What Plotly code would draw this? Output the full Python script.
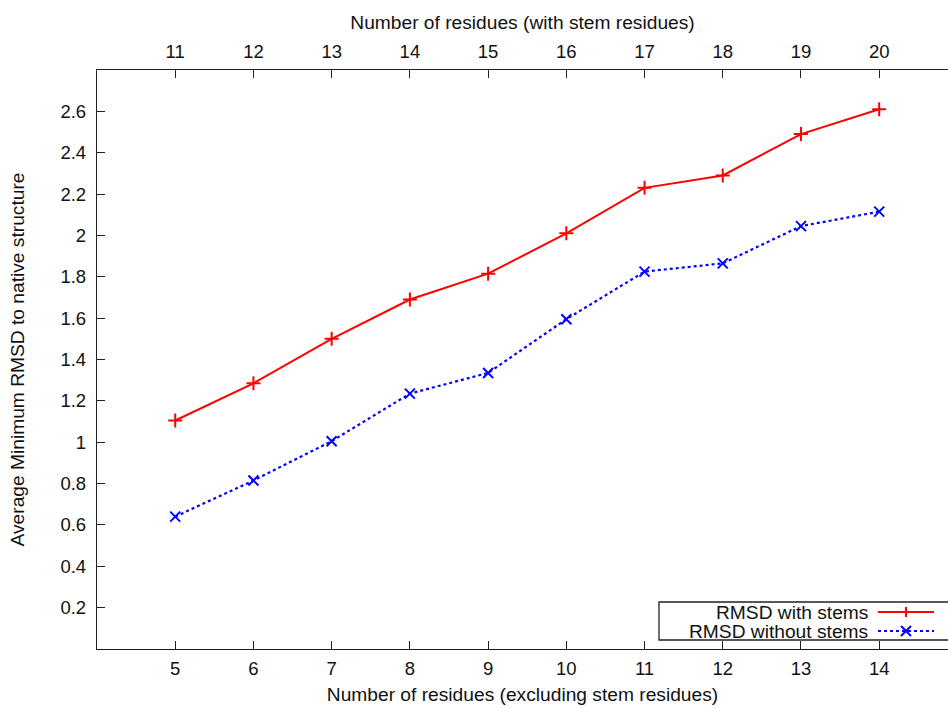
import plotly.graph_objects as go

residues = [5, 6, 7, 8, 9, 10, 11, 12, 13, 14]
rmsd_with_stems = [1.105, 1.285, 1.50, 1.69, 1.815, 2.01, 2.23, 2.29, 2.49, 2.61]
rmsd_without_stems = [0.64, 0.815, 1.005, 1.235, 1.335, 1.595, 1.825, 1.865, 2.045, 2.115]
y_ticks = [0.2, 0.4, 0.6, 0.8, 1.0, 1.2, 1.4, 1.6, 1.8, 2.0, 2.2, 2.4, 2.6]
y_tick_labels = ["0.2", "0.4", "0.6", "0.8", "1", "1.2", "1.4", "1.6", "1.8", "2", "2.2", "2.4", "2.6"]
top_ticks = [11, 12, 13, 14, 15, 16, 17, 18, 19, 20]
stem_offset = 6

W, H = 948, 708
ML, MR, MT, MB = 97, 0, 70, 59
PW, PH = W - ML - MR, H - MT - MB

def px(x):
    return (x - ML) / PW

def py(y):
    return (H - MB - y) / PH

FONT = "Liberation Sans, Arial, sans-serif"
AX = "#222222"
TF = 18.5
TTL = 19.2

fig = go.Figure()
fig.add_trace(go.Scatter(
    x=residues, y=rmsd_with_stems, mode="lines+markers", name="RMSD with stems",
    line=dict(color="#ff0000", width=2),
    marker=dict(symbol="cross-thin", size=10, line=dict(color="#ff0000", width=2)),
    showlegend=False))
fig.add_trace(go.Scatter(
    x=residues, y=rmsd_without_stems, mode="lines+markers", name="RMSD without stems",
    line=dict(color="#0000ff", width=2.2, dash="dot"),
    marker=dict(symbol="x-thin", size=10, line=dict(color="#0000ff", width=2)),
    showlegend=False))
# invisible trace to activate top axis
fig.add_trace(go.Scatter(x=[t for t in top_ticks], y=[None] * len(top_ticks),
                         xaxis="x2", mode="lines", showlegend=False, hoverinfo="skip"))

xr = [4, 4 + PW / 78.22]
fig.update_layout(
    width=W, height=H, margin=dict(l=ML, r=MR, t=MT, b=MB),
    paper_bgcolor="white", plot_bgcolor="white",
    font=dict(family=FONT, size=TF, color="#111111"),
    xaxis=dict(range=xr, tickvals=residues, ticks="inside", ticklen=8, tickwidth=1.2,
               tickcolor=AX, showline=True, linecolor=AX, linewidth=1.3, showgrid=False,
               zeroline=False, tickfont=dict(size=TF), ticklabelstandoff=3,
               title=dict(text="Number of residues (excluding stem residues)", standoff=9,
                          font=dict(size=TTL))),
    xaxis2=dict(range=[xr[0] + stem_offset, xr[1] + stem_offset], overlaying="x", side="top",
                tickvals=top_ticks, ticks="inside", ticklen=8, tickwidth=1.2, tickcolor=AX,
                showline=True, linecolor=AX, linewidth=1.3, showgrid=False, zeroline=False,
                tickfont=dict(size=TF), ticklabelstandoff=3,
                title=dict(text="Number of residues (with stem residues)", standoff=6,
                           font=dict(size=TTL))),
    yaxis=dict(range=[0, 2.8], tickvals=y_ticks, ticktext=y_tick_labels, ticks="inside",
               ticklen=8, tickwidth=1.2, tickcolor=AX, showline=True, linecolor=AX,
               linewidth=1.3, showgrid=False, zeroline=False, tickfont=dict(size=TF),
               ticklabelstandoff=6,
               title=dict(text="Average Minimum RMSD to native structure", standoff=30,
                          font=dict(size=TTL))),
)

# Custom gnuplot-style legend (text right, sample left)
shapes = [dict(type="rect", xref="paper", yref="paper", x0=px(659), x1=px(960),
               y0=py(640), y1=py(602), line=dict(color=AX, width=1.3), fillcolor="white",
               layer="above")]
rows = [(612, "RMSD with stems", "#ff0000", "solid", "plus"),
        (631, "RMSD without stems", "#0000ff", "dot", "x")]
for yy, label, col, dash, sym in rows:
    fig.add_annotation(x=px(870), y=py(yy), xref="paper", yref="paper", text=label,
                       showarrow=False, xanchor="right", yanchor="middle",
                       font=dict(size=TTL, family=FONT, color="#111111"))
    shapes.append(dict(type="line", xref="paper", yref="paper", x0=px(878), x1=px(934),
                       y0=py(yy), y1=py(yy), line=dict(color=col, width=2, dash=dash),
                       layer="above"))
    cx, r = 906, 5
    if sym == "plus":
        segs = [((cx - r, yy), (cx + r, yy)), ((cx, yy - r), (cx, yy + r))]
    else:
        segs = [((cx - r, yy - r), (cx + r, yy + r)), ((cx - r, yy + r), (cx + r, yy - r))]
    for (a, b) in segs:
        shapes.append(dict(type="line", xref="paper", yref="paper", x0=px(a[0]), y0=py(a[1]),
                           x1=px(b[0]), y1=py(b[1]), line=dict(color=col, width=2),
                           layer="above"))
fig.update_layout(shapes=shapes)

fig.write_html("out.html")
